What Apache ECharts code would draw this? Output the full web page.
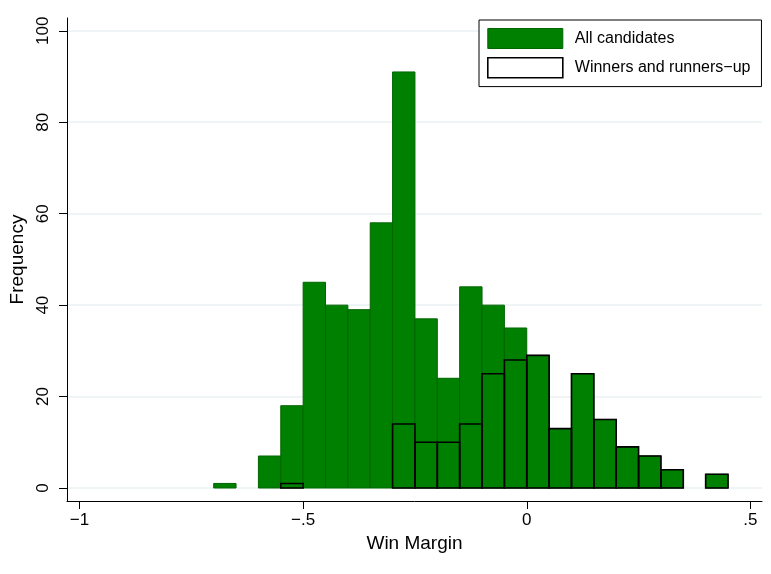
<!DOCTYPE html>
<html>
<head>
<meta charset="utf-8">
<title>Win Margin histogram</title>
<script src="https://cdn.jsdelivr.net/npm/echarts@6/dist/echarts.min.js"></script>
<style>
  html, body { margin: 0; padding: 0; background: #fff; }
  #chart { width: 771px; height: 574px; }
</style>
</head>
<body>
<div id="chart"></div>
<script>
// Histogram bins (lower edges), width 0.05
const binWidth = 0.05;
const binStarts = [-0.70, -0.65, -0.60, -0.55, -0.50, -0.45, -0.40, -0.35, -0.30, -0.25, -0.20, -0.15,
                   -0.10, -0.05, 0.00, 0.05, 0.10, 0.15, 0.20, 0.25, 0.30, 0.35, 0.40];
// Frequencies per bin
const allCandidates    = [1, 0, 7, 18, 45, 40, 39, 58, 91, 37, 24, 44, 40, 35, 29, 13, 25, 15, 9, 7, 4, 0, 3];
const winnersRunnersUp = [0, 0, 0, 1, 0, 0, 0, 0, 14, 10, 10, 14, 25, 28, 29, 13, 25, 15, 9, 7, 4, 0, 3];
// Axis ticks
const yTickValues = [0, 20, 40, 60, 80, 100];
const xTickValues = [-1, -0.5, 0, 0.5];
const xTickLabels = ['\u22121', '\u2212.5', '0', '.5'];

const seriesNames = ['All candidates', 'Winners and runners\u2212up'];

function toBins(counts) {
  return binStarts.map((s, i) => [s, +(s + binWidth).toFixed(2), counts[i]]);
}

function barRenderer(style) {
  return function (params, api) {
    const lo = api.value(0), hi = api.value(1), n = api.value(2);
    if (!n) return;
    const base = api.coord([lo, 0]);
    const top = api.coord([hi, n]);
    return {
      type: 'rect',
      shape: { x: base[0], y: top[1], width: top[0] - base[0], height: base[1] - top[1] },
      style: style
    };
  };
}

const font = 'Liberation Sans, Arial, Helvetica, sans-serif';
const chart = echarts.init(document.getElementById('chart'), null, { renderer: 'canvas' });

chart.setOption({
  animation: false,
  backgroundColor: '#fff',
  textStyle: { fontFamily: font },
  grid: { left: 67, right: 9, top: 18, bottom: 73, containLabel: false },
  legend: {
    orient: 'vertical',
    left: 479,
    top: 20,
    padding: [8, 11, 8, 8],
    itemWidth: 75,
    itemHeight: 20,
    itemGap: 8,
    borderColor: '#000',
    borderWidth: 1,
    backgroundColor: '#fff',
    selectedMode: false,
    textStyle: { fontFamily: font, fontSize: 16, color: '#000', padding: [2, 0, 0, 7] },
    data: [
      { name: seriesNames[0], icon: 'rect',
        itemStyle: { color: '#008000', borderColor: '#006400', borderWidth: 1 } },
      { name: seriesNames[1], icon: 'rect',
        itemStyle: { color: '#fff', borderColor: '#000', borderWidth: 1.6 } }
    ]
  },
  xAxis: {
    type: 'value',
    min: -1.028,
    max: 0.526,
    name: 'Win Margin',
    nameLocation: 'middle',
    nameGap: 27,
    nameTextStyle: { fontFamily: font, fontSize: 19, color: '#000', verticalAlign: 'top' },
    axisLine: { show: true, onZero: false, lineStyle: { color: '#000', width: 1 } },
    axisTick: { show: true, length: 8, lineStyle: { color: '#000' }, customValues: xTickValues },
    axisLabel: {
      fontFamily: font, fontSize: 17, color: '#000', margin: 11,
      customValues: xTickValues,
      formatter: v => xTickLabels[xTickValues.indexOf(+v.toFixed(2))]
    },
    splitLine: { show: false }
  },
  yAxis: {
    type: 'value',
    min: -2.84,
    max: 102.8,
    name: 'Frequency',
    nameLocation: 'middle',
    nameGap: 37,
    nameRotate: 90,
    nameTextStyle: { fontFamily: font, fontSize: 19, color: '#000' },
    axisLine: { show: true, onZero: false, lineStyle: { color: '#000', width: 1 } },
    axisTick: { show: true, length: 8, lineStyle: { color: '#000' }, customValues: yTickValues },
    axisLabel: {
      fontFamily: font, fontSize: 17, color: '#000', margin: 15, rotate: 90,
      customValues: yTickValues
    },
    splitLine: { show: true, lineStyle: { color: '#eaf2f3', width: 1.5 } }
  },
  series: [
    {
      name: seriesNames[0],
      type: 'custom',
      data: toBins(allCandidates),
      encode: { x: [0, 1], y: 2 },
      renderItem: barRenderer({ fill: '#008000', stroke: '#006400', lineWidth: 1 }),
      z: 2
    },
    {
      name: seriesNames[1],
      type: 'custom',
      data: toBins(winnersRunnersUp),
      encode: { x: [0, 1], y: 2 },
      renderItem: barRenderer({ fill: 'none', stroke: '#000', lineWidth: 1.6 }),
      z: 3
    }
  ]
});
</script>
</body>
</html>
